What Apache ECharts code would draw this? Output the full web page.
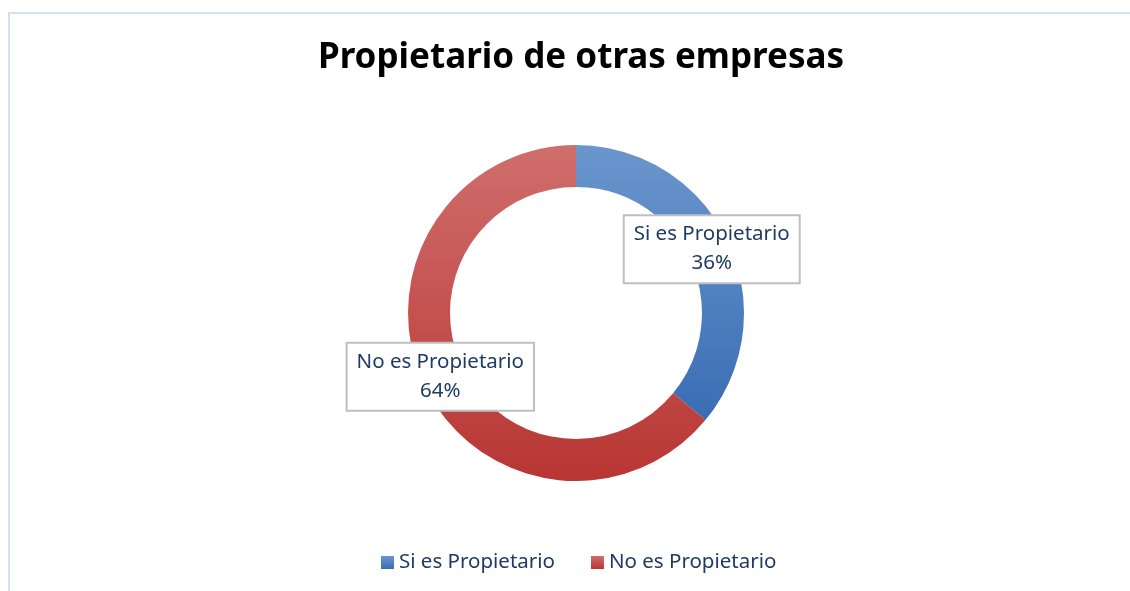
<!DOCTYPE html>
<html>
<head>
<meta charset="utf-8">
<script src="https://cdn.jsdelivr.net/npm/echarts@6/dist/echarts.min.js"></script>
<style>
  html, body { margin: 0; padding: 0; background: #fff; }
  #chart { width: 1130px; height: 591px; }
</style>
</head>
<body>
<div id="chart"></div>
<script>
const categories = ['Si es Propietario', 'No es Propietario'];
const values = [36, 64];
const colors = [
  ['#6b96cd', '#3a6db4'],
  ['#cf6e6c', '#b83633']
];

const myChart = echarts.init(document.getElementById('chart'));

const option = {
  backgroundColor: '#fff',
  animation: false,
  title: {
    text: 'Propietario de otras empresas',
    left: 576,
    textAlign: 'center',
    top: 36,
    textStyle: {
      fontFamily: 'Noto Sans',
      fontWeight: 'bold',
      fontSize: 35,
      color: '#000'
    }
  },
  legend: {
    bottom: 13,
    left: 376,
    itemWidth: 13,
    itemHeight: 13,
    itemGap: 36,
    icon: 'rect',
    textStyle: {
      fontFamily: 'Noto Sans',
      fontSize: 20.5,
      color: '#1f3b63'
    },
    data: categories
  },
  graphic: [{
    type: 'polyline',
    shape: { points: [[9, 591], [9, 13], [1130, 13]] },
    style: { stroke: '#d3e2f3', lineWidth: 2, fill: null },
    silent: true
  }],
  series: [{
    type: 'pie',
    center: [576, 313],
    radius: [126, 168],
    startAngle: 90,
    clockwise: true,
    data: categories.map((name, i) => ({
      name: name,
      value: values[i],
      itemStyle: {
        color: new echarts.graphic.LinearGradient(0, 0, 0, 1, [
          { offset: 0, color: colors[i][0] },
          { offset: 1, color: colors[i][1] }
        ])
      }
    })),
    label: {
      position: 'inside',
      formatter: '{b}\n{d}%',
      fontFamily: 'Noto Sans',
      fontSize: 20.5,
      lineHeight: 29,
      color: '#1f3b63',
      backgroundColor: '#fff',
      borderColor: '#bfbfbf',
      borderWidth: 2,
      padding: [4, 9, 4, 9]
    },
    labelLine: { show: false },
    emphasis: { disabled: true }
  }]
};

myChart.setOption(option);
</script>
</body>
</html>
